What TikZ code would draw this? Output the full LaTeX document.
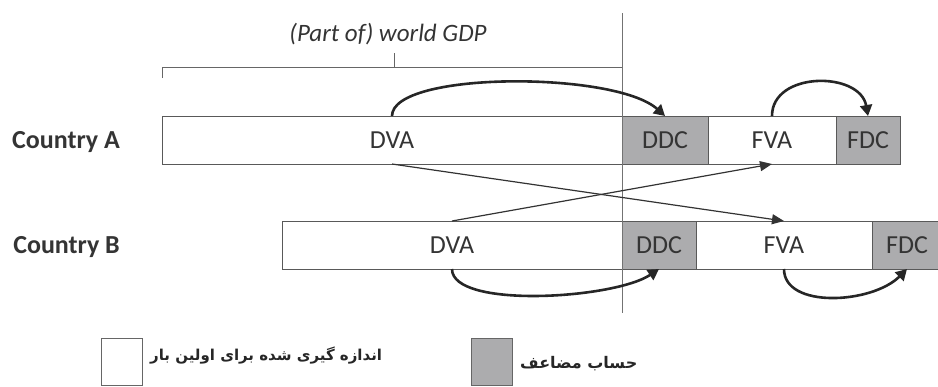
\documentclass[tikz,border=0pt]{standalone}
\usepackage{fontspec}
\setmainfont{Carlito}
\newfontfamily\persianfont[Script=Arabic]{DejaVu Sans}
\TeXXeTstate=1
\usepackage{tikz}
\usetikzlibrary{positioning,arrows.meta}
\definecolor{dcgray}{RGB}{172,172,174}
\definecolor{inkgray}{RGB}{52,52,52}

\tikzset{
  seg/.style={draw=black!65, line width=0.8pt, minimum height=48pt, inner sep=0pt, outer sep=0pt,
              font=\fontsize{26}{30}\selectfont, text=inkgray},
  va/.style={seg, fill=white},
  dc/.style={seg, fill=dcgray},
  country/.style={font=\bfseries\fontsize{26}{30}\selectfont, text=inkgray, anchor=east, inner sep=0pt},
  flow/.style={-{Triangle[length=11pt,width=12pt]}, line width=2.6pt, black!85},
  cross/.style={-{Triangle[length=12pt,width=10pt]}, line width=1.2pt, black!80},
  legbox/.style={draw=black!60, line width=0.8pt, minimum width=41pt, minimum height=47pt, inner sep=0pt},
  legtext/.style={font=\persianfont\bfseries\fontsize{#1}{22}\selectfont, text=black!85, anchor=west, inner sep=0pt}
}

\begin{document}
\begin{tikzpicture}[x=1pt, y=-1pt]

        % frame
        \useasboundingbox (0,0) rectangle (938,386);

        % country A
        \node[va, minimum width=460pt, anchor=west] (aDVA) at (162,140) {DVA};
        \node[dc, minimum width=86pt, right=0pt of aDVA] (aDDC) {DDC};
        \node[va, minimum width=128pt, right=0pt of aDDC] (aFVA) {FVA};
        \node[dc, minimum width=64pt, right=0pt of aFVA] (aFDC) {FDC};

        % country B
        \node[va, minimum width=340pt, anchor=west] (bDVA) at (282,245) {DVA};
        \node[dc, minimum width=74pt, right=0pt of bDVA] (bDDC) {DDC};
        \node[va, minimum width=176pt, right=0pt of bDDC] (bFVA) {FVA};
        \node[dc, minimum width=70pt, right=0pt of bFVA] (bFDC) {FDC};

        \node[country] (cA) at (120,142) {Country A};
        \node[country] (cB) at (120,247) {Country B};

        % world GDP bracket
        \coordinate (gdpTop) at (622,13);
        \coordinate (gdpBot) at (622,313);
        \draw[black!55, line width=0.8pt] (gdpTop) -- (gdpBot);
        \draw[black!60, line width=0.8pt] (162,78) -- (162,67) -- (622,67);
        \draw[black!60, line width=0.8pt] (394,67) -- (394,53);
        \node[font=\itshape\fontsize{25}{29}\selectfont, text=inkgray] (gdp) at (388,34) {(Part of) world GDP};

        % domestic / foreign double counting
        \draw[flow] (aDVA.north) .. controls +(0,-45) and +(-50,-45) .. (aDDC.north);
        \draw[flow] (aFVA.north) .. controls +(0,-45) and +(-8,-45) .. (aFDC.north);
        \draw[flow] (bDVA.south) .. controls +(0,40) and +(-45,30) .. (bDDC.south);
        \draw[flow] (bFVA.south) .. controls +(0,40) and +(-35,35) .. (bFDC.south);

        % exports
        \draw[cross] (aDVA.south) -- (bFVA.north);
        \draw[cross] (bDVA.north) -- (aFVA.south);

        % legend
        \node[legbox, fill=white] (lgFirst) at (122,362) {};
        \node[legtext=15] (lgFirstTxt) at (150,356) {\beginR اندازه گیری شده برای اولین بار\endR};
        \node[legbox, fill=dcgray] (lgDouble) at (492,362) {};
        \node[legtext=16] (lgDoubleTxt) at (520,364) {\beginR حساب مضاعف\endR};

\end{tikzpicture}
\end{document}
